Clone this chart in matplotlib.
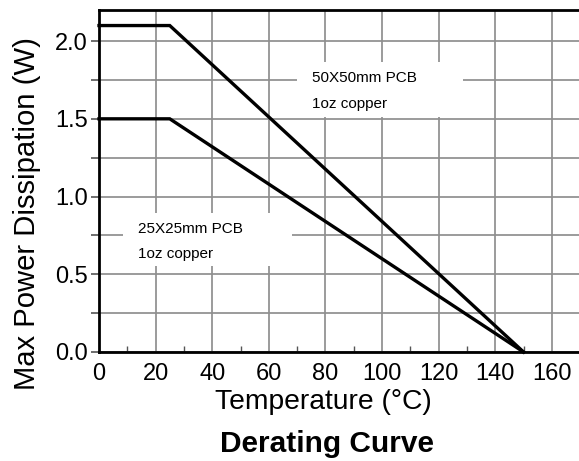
import matplotlib
matplotlib.use("Agg")
import matplotlib.pyplot as plt
from matplotlib.ticker import MultipleLocator
from matplotlib.patches import Rectangle

plt.rcParams['font.family'] = ['Liberation Sans', 'DejaVu Sans']

temp = [0, 25, 150]
pcb50 = [2.1, 2.1, 0.0]
pcb25 = [1.5, 1.5, 0.0]
xticks = [0, 20, 40, 60, 80, 100, 120, 140, 160]
yticks = [0.0, 0.5, 1.0, 1.5, 2.0]
ytick_labels = ["0.0", "0.5", "1.0", "1.5", "2.0"]

W, H = 579, 461
fig = plt.figure(figsize=(W/100, H/100), dpi=100)
ax = fig.add_axes([99/W, 1 - 352/H, (W - 99)/W, (352 - 10)/H])

ax.set_xlim(0, 169.6)
ax.set_ylim(0, 2.2)
ax.set_xticks(xticks)
ax.set_yticks(yticks)
ax.set_yticklabels(ytick_labels)
ax.xaxis.set_minor_locator(MultipleLocator(10))
ax.yaxis.set_minor_locator(MultipleLocator(0.25))

gc = '#8f8f8f'
ax.grid(True, which='major', axis='x', color=gc, lw=1.25)
ax.grid(True, which='both', axis='y', color=gc, lw=1.25)
ax.set_axisbelow(True)

# white label backgrounds (hide grid behind annotation text)
ax.add_patch(Rectangle((70.0, 1.511), 58.6, 0.354, facecolor='white', edgecolor='none', zorder=1.5))
ax.add_patch(Rectangle((8.5, 0.553), 59.7, 0.341, facecolor='white', edgecolor='none', zorder=1.5))

ax.plot(temp, pcb50, color='black', lw=2.4, solid_joinstyle='miter', clip_on=False, zorder=3)
ax.plot(temp, pcb25, color='black', lw=2.4, solid_joinstyle='miter', clip_on=False, zorder=3)

for s in ['left', 'bottom', 'top']:
    ax.spines[s].set_linewidth(2.0)
ax.spines['right'].set_visible(False)

ax.tick_params(axis='x', which='major', length=0, labelsize=17, pad=8)
ax.tick_params(axis='x', which='minor', direction='in', length=4, width=1, color='#555555')
ax.tick_params(axis='y', which='both', length=6, width=1.2, color='#555555', labelsize=17, pad=2)

ax.set_xlabel("Temperature (°C)", fontsize=20.3, va='top')
ax.xaxis.set_label_coords((323 - 99) / 480, -(389 - 352) / 342)
ax.set_ylabel("Max Power Dissipation (W)", fontsize=21.1, va='center')
ax.yaxis.set_label_coords((27 - 99) / 480, (352 - 214) / 342)

ax.text(75.3, 1.736, "50X50mm PCB", fontsize=11, ha='left', va='baseline', zorder=2)
ax.text(75.3, 1.569, "1oz copper", fontsize=11, ha='left', va='baseline', zorder=2)
ax.text(13.8, 0.765, "25X25mm PCB", fontsize=11, ha='left', va='baseline', zorder=2)
ax.text(13.8, 0.605, "1oz copper", fontsize=11, ha='left', va='baseline', zorder=2)

fig.text(327 / W, 1 - 444 / H, "Derating Curve", fontsize=21.5,
         fontweight='bold', ha='center', va='center')

fig.savefig("out.png", dpi=100)
